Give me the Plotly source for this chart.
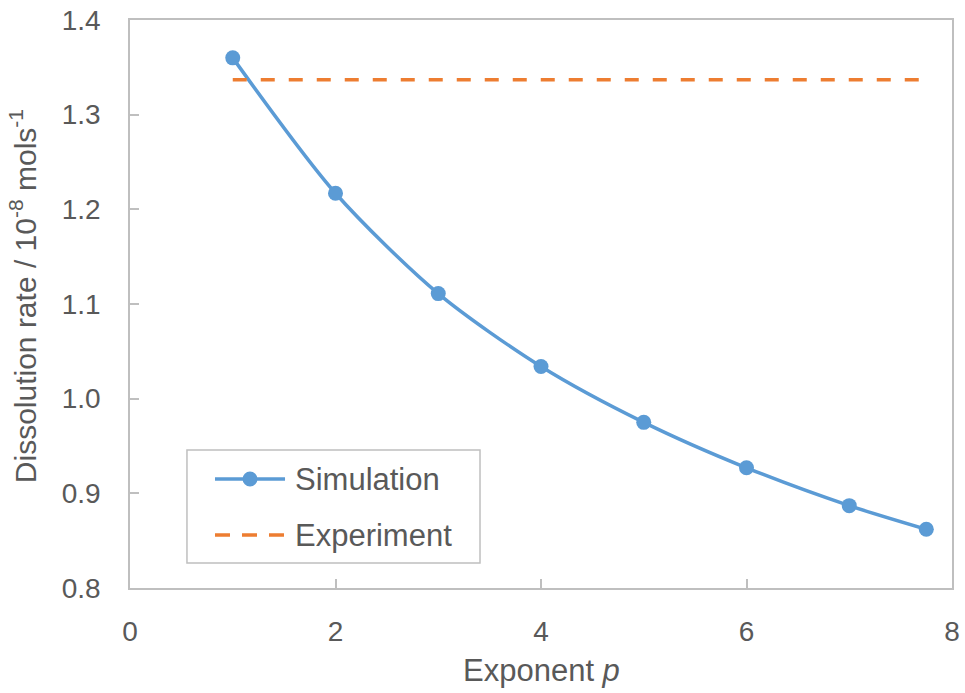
import plotly.graph_objects as go

# Simulated dissolution rate vs exponent p
exponent_p = [1, 2, 3, 4, 5, 6, 7, 7.75]
simulation = [1.360, 1.217, 1.111, 1.034, 0.975, 0.927, 0.887, 0.862]

# Measured dissolution rate (constant reference)
experiment_x = [1, 7.75]
experiment_y = [1.337, 1.337]

x_ticks = [0, 2, 4, 6, 8]
y_ticks = [0.8, 0.9, 1.0, 1.1, 1.2, 1.3, 1.4]

BLUE = "#5B9BD5"
ORANGE = "#ED7D31"
TEXT = "#595959"
AXIS = "#BFBFBF"
FONT = "Liberation Sans, Arial, sans-serif"
DASH = "14px,14px"

fig = go.Figure()
fig.add_trace(go.Scatter(
    x=exponent_p, y=simulation, name="Simulation",
    mode="lines+markers", line=dict(color=BLUE, width=3.5, shape="spline", smoothing=0.8),
    marker=dict(color=BLUE, size=15),
))
fig.add_trace(go.Scatter(
    x=experiment_x, y=experiment_y, name="Experiment",
    mode="lines", line=dict(color=ORANGE, width=3.5, dash=DASH),
))

# Legend box drawn in paper coordinates
shapes = [
    dict(type="rect", xref="paper", yref="paper", x0=0.0693, x1=0.4258, y0=0.044, y1=0.243,
         line=dict(color=AXIS, width=1.5), fillcolor="white", layer="above"),
    dict(type="line", xref="paper", yref="paper", x0=0.1034, x1=0.1886, y0=0.1919, y1=0.1919,
         line=dict(color=BLUE, width=3.5), layer="above"),
    dict(type="circle", xref="paper", yref="paper", x0=0.1460 - 0.0091, x1=0.1460 + 0.0091,
         y0=0.1919 - 0.0132, y1=0.1919 + 0.0132, fillcolor=BLUE, line=dict(width=0), layer="above"),
    dict(type="line", xref="paper", yref="paper", x0=0.1034, x1=0.1886, y0=0.0933, y1=0.0933,
         line=dict(color=ORANGE, width=3.5, dash="15px,12px"), layer="above"),
]
annotations = [
    dict(text="Simulation", xref="paper", yref="paper", x=0.1983, y=0.1919,
         xanchor="left", yanchor="middle", showarrow=False, font=dict(size=31, color=TEXT)),
    dict(text="Experiment", xref="paper", yref="paper", x=0.1983, y=0.0933,
         xanchor="left", yanchor="middle", showarrow=False, font=dict(size=31, color=TEXT)),
    dict(text="Dissolution rate / 10<sup>-8</sup> mols<sup>-1</sup>", xref="paper", yref="paper",
         x=-0.130, y=0.514, xanchor="center", yanchor="middle", textangle=-90,
         showarrow=False, font=dict(size=30, color=TEXT)),
    dict(text="Exponent <i>p</i>", xref="paper", yref="paper",
         x=0.5, y=-0.1444, xanchor="center", yanchor="middle",
         showarrow=False, font=dict(size=31, color=TEXT)),
]

fig.update_layout(
    width=965, height=693,
    margin=dict(l=130, r=13, t=20, b=105),
    paper_bgcolor="white", plot_bgcolor="white",
    font=dict(family=FONT, color=TEXT, size=28),
    showlegend=False,
    shapes=shapes,
    annotations=annotations,
)
fig.update_xaxes(
    range=[0, 8], tickvals=x_ticks, ticktext=[str(v) for v in x_ticks],
    showgrid=False, zeroline=False, showline=True, linecolor=AXIS, linewidth=1.5,
    mirror=True, ticks="inside", ticklen=9, tickcolor=AXIS, tickwidth=1.5,
    ticklabelstandoff=18, tickfont=dict(size=28), automargin=False,
)
fig.update_yaxes(
    range=[0.8, 1.4], tickvals=y_ticks, ticktext=[f"{v:.1f}" for v in y_ticks],
    showgrid=False, zeroline=False, showline=True, linecolor=AXIS, linewidth=1.5,
    mirror=True, ticks="inside", ticklen=9, tickcolor=AXIS, tickwidth=1.5,
    ticklabelstandoff=22, tickfont=dict(size=28), automargin=False,
)

fig.write_html("out.html")
